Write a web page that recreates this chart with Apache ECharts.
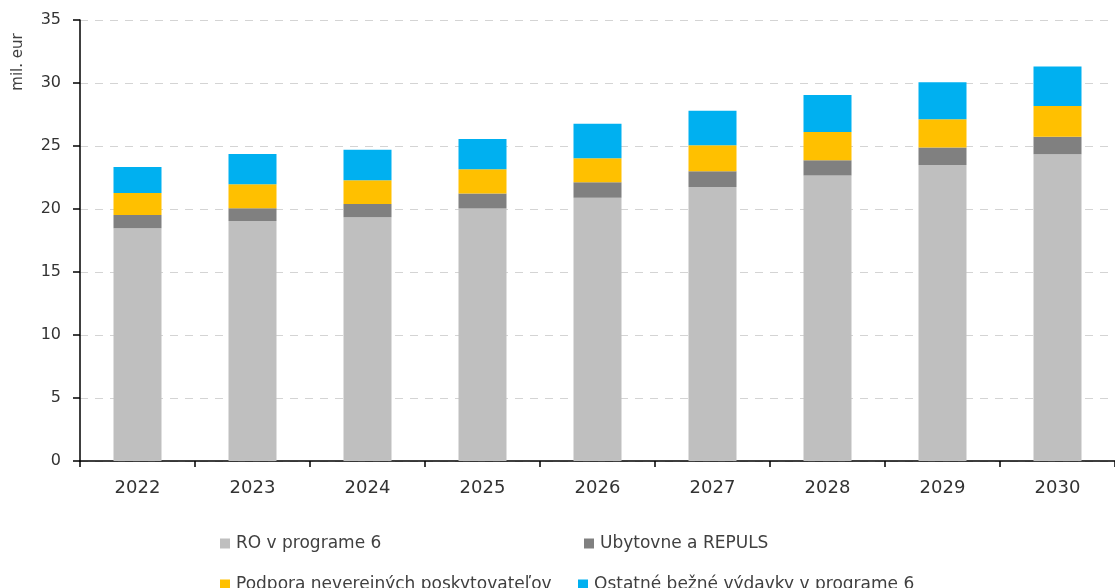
<!DOCTYPE html>
<html>
<head>
<meta charset="utf-8">
<script src="https://cdn.jsdelivr.net/npm/echarts@6/dist/echarts.min.js"></script>
<style>
html,body{margin:0;padding:0;background:#fff;}
#chart{width:1115px;height:588px;}
</style>
</head>
<body>
<div id="chart"></div>
<script>
const categories = ['2022','2023','2024','2025','2026','2027','2028','2029','2030'];
const seriesNames = ['RO v programe 6','Ubytovne a REPULS','Podpora neverejných poskytovateľov','Ostatné bežné výdavky v programe 6'];
const roValues = [18.47, 19.05, 19.34, 20.03, 20.90, 21.75, 22.65, 23.49, 24.34];
const ubytovneValues = [1.05, 1.00, 1.06, 1.21, 1.22, 1.24, 1.21, 1.40, 1.40];
const podporaValues = [1.75, 1.91, 1.88, 1.91, 1.90, 2.06, 2.25, 2.23, 2.43];
const ostatneValues = [2.06, 2.41, 2.43, 2.41, 2.75, 2.75, 2.94, 2.93, 3.13];
const yTicks = {min: 0, max: 35, interval: 5};
const colors = ['#bfbfbf', '#808080', '#ffc000', '#00b0f0'];

const font = 'DejaVu Sans';
const chart = echarts.init(document.getElementById('chart'), null, {renderer: 'canvas'});
const values = [roValues, ubytovneValues, podporaValues, ostatneValues];

function legendAt(name, left, top) {
  return {
    data: [name], left: left, top: top, orient: 'horizontal',
    icon: 'rect', itemWidth: 10, itemHeight: 10, itemGap: 10,
    textStyle: {fontFamily: font, fontSize: 17, color: '#404040', padding: [0, 0, 0, 1]},
    selectedMode: false
  };
}

chart.setOption({
  animation: false,
  color: colors,
  grid: {left: 80, top: 20, width: 1047, height: 441, containLabel: false},
  legend: [
    legendAt(seriesNames[0], 215, 530),
    legendAt(seriesNames[1], 579, 530),
    legendAt(seriesNames[2], 215, 571),
    legendAt(seriesNames[3], 573, 571)
  ],
  graphic: [{
    type: 'text', x: 18, y: 62, rotation: Math.PI / 2,
    style: {text: 'mil. eur', fontFamily: font, fontSize: 15, fill: '#404040',
            textAlign: 'center', textVerticalAlign: 'middle'}
  }],
  xAxis: {
    type: 'category', data: categories, boundaryGap: true,
    axisLine: {lineStyle: {color: '#000', width: 1.5}},
    axisTick: {show: true, length: 6, inside: false, lineStyle: {color: '#000', width: 1.5}},
    axisLabel: {fontFamily: font, fontSize: 18, color: '#333', margin: 18},
    splitLine: {show: false}
  },
  yAxis: {
    type: 'value', min: yTicks.min, max: yTicks.max, interval: yTicks.interval,
    axisLine: {show: true, lineStyle: {color: '#000', width: 1.5}},
    axisTick: {show: true, length: 7, inside: false, lineStyle: {color: '#000', width: 1.5}},
    axisLabel: {fontFamily: font, fontSize: 16, color: '#333', margin: 19},
    splitLine: {show: true, lineStyle: {color: '#d4d4d4', width: 1, type: [8, 7]}}
  },
  series: seriesNames.map((name, i) => ({
    name: name, type: 'bar', stack: 'total', barWidth: 48,
    data: values[i],
    itemStyle: {color: colors[i]}
  }))
});
</script>
</body>
</html>
